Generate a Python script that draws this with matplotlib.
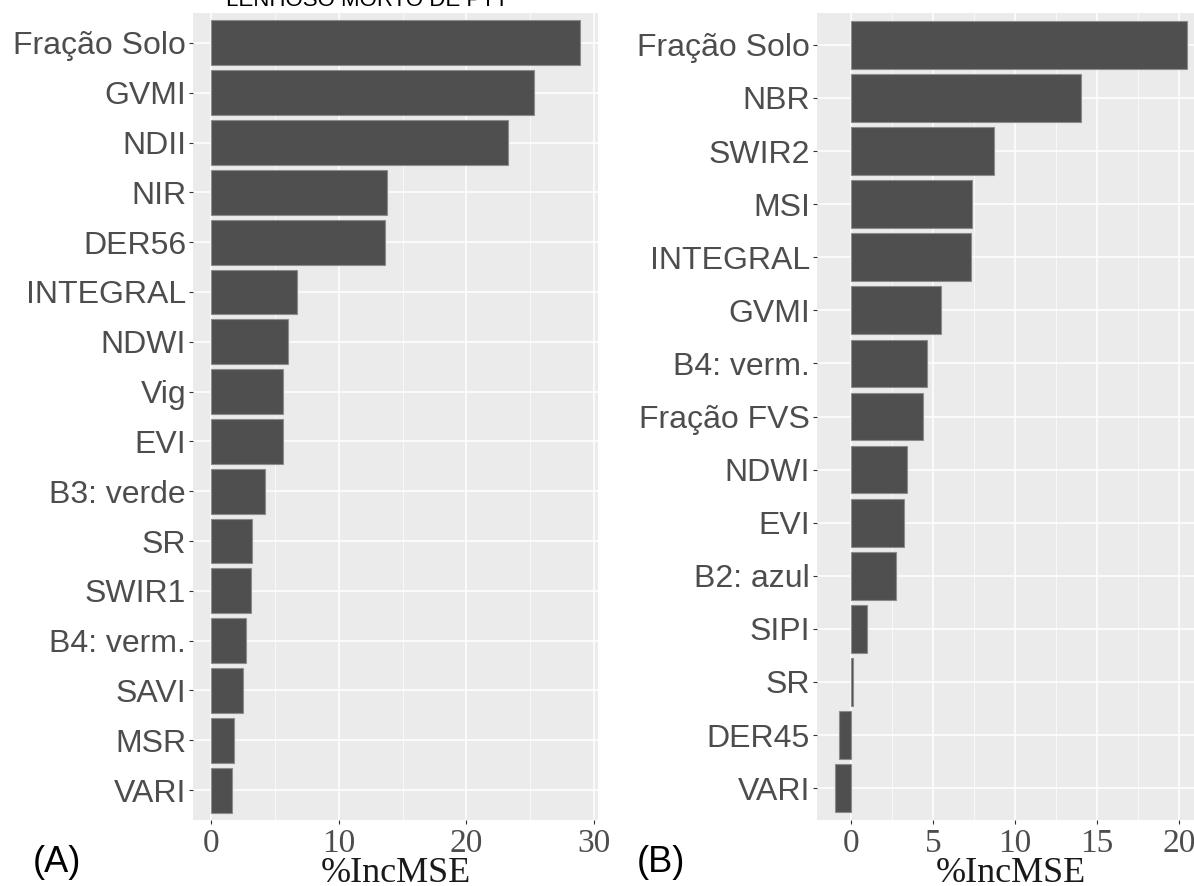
import matplotlib
matplotlib.use("Agg")
import matplotlib.pyplot as plt
from matplotlib.ticker import MultipleLocator

# variable importance (%IncMSE), panel A
vars_a = ["Fração Solo", "GVMI", "NDII", "NIR", "DER56", "INTEGRAL", "NDWI", "Vig",
          "EVI", "B3: verde", "SR", "SWIR1", "B4: verm.", "SAVI", "MSR", "VARI"]
inc_a = [28.9, 25.3, 23.3, 13.8, 13.6, 6.7, 6.0, 5.65, 5.6, 4.2, 3.2, 3.1, 2.7, 2.5, 1.8, 1.6]

# panel B
vars_b = ["Fração Solo", "NBR", "SWIR2", "MSI", "INTEGRAL", "GVMI", "B4: verm.", "Fração FVS",
          "NDWI", "EVI", "B2: azul", "SIPI", "SR", "DER45", "VARI"]
inc_b = [20.5, 14.0, 8.74, 7.40, 7.34, 5.49, 4.61, 4.37, 3.43, 3.23, 2.72, 1.0, 0.1, -0.71, -0.99]

title_a = "LENHOSO MORTO DE PTT"
xlabel = "%IncMSE"

W, H = 1194, 886
fig = plt.figure(figsize=(W / 100, H / 100), dpi=100)

sans = ["Liberation Sans", "DejaVu Sans"]
serif = ["Liberation Serif", "DejaVu Serif"]


def panel(rect, names, values, major, minor):
    left, top, right, bottom = rect
    ax = fig.add_axes([left / W, 1 - bottom / H, (right - left) / W, (bottom - top) / H])
    ax.set_facecolor("#EBEBEB")
    n = len(names)
    ypos = list(range(n - 1, -1, -1))
    ax.barh(ypos, values, height=0.9, color="#4F4F4F", edgecolor="#8C8C8C", linewidth=0.8, zorder=3)

    # ggplot-style 5% expansion around the data range
    lo = min(0, min(values))
    hi = max(0, max(values))
    pad = (hi - lo) * 0.05
    ax.set_xlim(lo - pad, hi + pad)
    ax.set_ylim(-0.6, n - 0.4)

    ax.xaxis.set_major_locator(MultipleLocator(major))
    ax.xaxis.set_minor_locator(MultipleLocator(minor))
    ax.set_yticks(ypos)
    ax.set_yticklabels(names, fontfamily=sans, fontsize=23, color="#4D4D4D")
    ax.tick_params(axis="x", labelsize=24, labelcolor="#4D4D4D", length=3, width=0.8,
                   color="#333333", pad=3)
    ax.tick_params(axis="x", which="minor", length=0)
    ax.tick_params(axis="y", length=3, width=0.8, color="#333333", pad=2)

    ax.grid(True, which="major", color="white", linewidth=1.1, zorder=0)
    ax.grid(True, which="minor", axis="x", color="white", linewidth=0.5, zorder=0)
    ax.set_axisbelow(True)
    for s in ax.spines.values():
        s.set_visible(False)
    ax.set_xlabel(xlabel, fontfamily=serif, fontsize=26, color="#1A1A1A", labelpad=-1)

    xlo, xhi = ax.get_xlim()
    ticks = [t for t in ax.get_xticks() if xlo <= t <= xhi]
    ax.set_xticks(ticks)
    ax.set_xticklabels([f"{t:g}" for t in ticks], fontfamily=serif)
    return ax


ax_a = panel((193, 13, 598, 820), vars_a, inc_a, 10, 5)
ax_b = panel((817, 13, 1205, 820), vars_b, inc_b, 5, 2.5)

# header runs off the top edge
fig.text(367 / W, 1 - 6 / H, title_a, fontfamily=sans, fontsize=16, color="black",
         ha="center", va="baseline")

fig.text(57 / W, 1 - 862 / H, "(A)", fontfamily=sans, fontsize=26, color="black",
         ha="center", va="center")
fig.text(661 / W, 1 - 862 / H, "(B)", fontfamily=sans, fontsize=26, color="black",
         ha="center", va="center")

fig.savefig("out.png", dpi=100)
